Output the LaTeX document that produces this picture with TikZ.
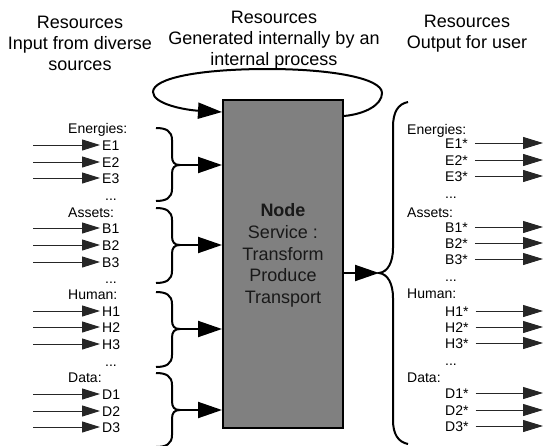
\documentclass[tikz,border=0pt]{standalone}
\usepackage{fontspec}
\setmainfont{Liberation Sans}
\usetikzlibrary{arrows.meta}
\newcommand\mybraceL[3]{%
  \draw[bracestyle] (156,#1) .. controls (166,#1) and (172,#1+3) .. (172,#1+12)
    -- (172,#2-9) .. controls (172,#2-3) and (174,#2) .. (180,#2)
    .. controls (174,#2) and (172,#2+3) .. (172,#2+9)
    -- (172,#3-12) .. controls (172,#3-3) and (166,#3) .. (156,#3);}
\begin{document}
\begin{tikzpicture}[x=1pt,y=-1pt,
  hdr/.style={font=\fontsize{18}{21}\selectfont, inner sep=0pt, anchor=base, text=black},
  lbl/.style={font=\fontsize{14}{16}\selectfont, inner sep=0pt, anchor=base west, text=black},
  inarr/.style={draw=black!85, line width=1pt, -{Triangle[length=18pt,width=11pt]}},
  outarr/.style={draw=black!85, line width=1pt, -{Triangle[length=20pt,width=12pt]}},
  bigarr/.style={draw=black, line width=2pt, -{Triangle[length=24pt,width=16pt]}},
  bracestyle/.style={draw=black, line width=2pt},
  boxstyle/.style={draw=black, line width=2pt, fill=gray, minimum width=120pt, minimum height=328pt, inner sep=0pt},
  boxtxt/.style={font=\fontsize{18}{21}\selectfont, inner sep=0pt, anchor=base, text=black!90}
]
\useasboundingbox (0,0) rectangle (544,445);

% headers
\node[hdr] (h1a) at (80,28.5) {Resources};
\node[hdr] (h1b) at (80,49.5) {Input from diverse};
\node[hdr] (h1c) at (80,70.5) {sources};
\node[hdr] (h2a) at (274,23.5) {Resources};
\node[hdr] (h2b) at (274,44.5) {Generated internally by an};
\node[hdr] (h2c) at (274,65.5) {internal process};
\node[hdr] (h3a) at (467,27.5) {Resources};
\node[hdr] (h3b) at (467,48.5) {Output for user};

% central box
\node[boxstyle] (box) at (283,264) {};
\node[boxtxt] (t1) at (283,216.5) {\textbf{Node}};
\node[boxtxt] (t2) at (283,238.5) {Service :};
\node[boxtxt] (t3) at (283,260) {Transform};
\node[boxtxt] (t4) at (283,281.5) {Produce};
\node[boxtxt] (t5) at (283,303.5) {Transport};

% loop
\draw[bigarr] ([yshift=-17pt]box.north east) .. controls (365,114) and (382,105) .. (382,93)
  .. controls (382,78) and (330,69) .. (268,69)
  .. controls (200,69) and (153,78) .. (153,92)
  .. controls (153,104) and (185,110) .. ([yshift=-13pt]box.north west);

% left labels
\node[lbl] (lE) at (68,133) {Energies:};
\node[lbl] (lB) at (68,217) {Assets:};
\node[lbl] (lH) at (68,299) {Human:};
\node[lbl] (lD) at (68,382) {Data:};
\node[lbl] (ld1) at (105,200) {...};
\node[lbl] (ld2) at (105,283) {...};
\node[lbl] (ld3) at (105,366) {...};
\foreach \n/\t/\y in {e1/E1/150,e2/E2/167,e3/E3/183,b1/B1/233,b2/B2/250,b3/B3/267,
                       h1/H1/316,h2/H2/332,h3/H3/349,d1/D1/399,d2/D2/416,d3/D3/432}{
  \node[lbl] (\n) at (102,\y) {\t};
  \coordinate (s\n) at (33,\y-5);
  \draw[inarr] (s\n) -- ([xshift=-2pt]s\n -| \n.west);
}

% left braces
\mybraceL{128}{165}{201}
\mybraceL{208}{245}{283}
\mybraceL{292}{329}{367}
\mybraceL{373}{410}{447}
\foreach \m/\y in {E/165,B/245,H/329,D/410}{
  \coordinate (b\m) at (180,\y);
  \draw[bigarr] (b\m) -- (b\m -| box.west);
}

% right brace and output arrow
\draw[bracestyle] (408,102) .. controls (398,104) and (393,112) .. (393,127) -- (393,248)
  .. controls (393,262) and (388,272) .. (379,273)
  .. controls (388,274) and (393,284) .. (393,298) -- (393,420)
  .. controls (393,434) and (398,442) .. (408,444);
\coordinate (rtip) at (379,273);
\draw[bigarr] (rtip -| box.east) -- (rtip);

% right labels
\node[lbl] (rE) at (407,134) {Energies:};
\node[lbl] (rB) at (407,217) {Assets:};
\node[lbl] (rH) at (407,298) {Human:};
\node[lbl] (rD) at (407,382) {Data:};
\node[lbl] (rd1) at (445,198) {...};
\node[lbl] (rd2) at (445,281) {...};
\node[lbl] (rd3) at (445,365) {...};
\foreach \n/\t/\y in {e1/E1*/148,e2/E2*/165,e3/E3*/181,b1/B1*/232,b2/B2*/248,b3/B3*/264,
                       h1/H1*/316,h2/H2*/332,h3/H3*/348,d1/D1*/398,d2/D2*/415,d3/D3*/431}{
  \node[lbl] (r\n) at (445,\y) {\t};
  \coordinate (o\n) at (543,\y-5);
  \draw[outarr] ([xshift=7pt]o\n -| r\n.east) -- (o\n);
}
\end{tikzpicture}
\end{document}
